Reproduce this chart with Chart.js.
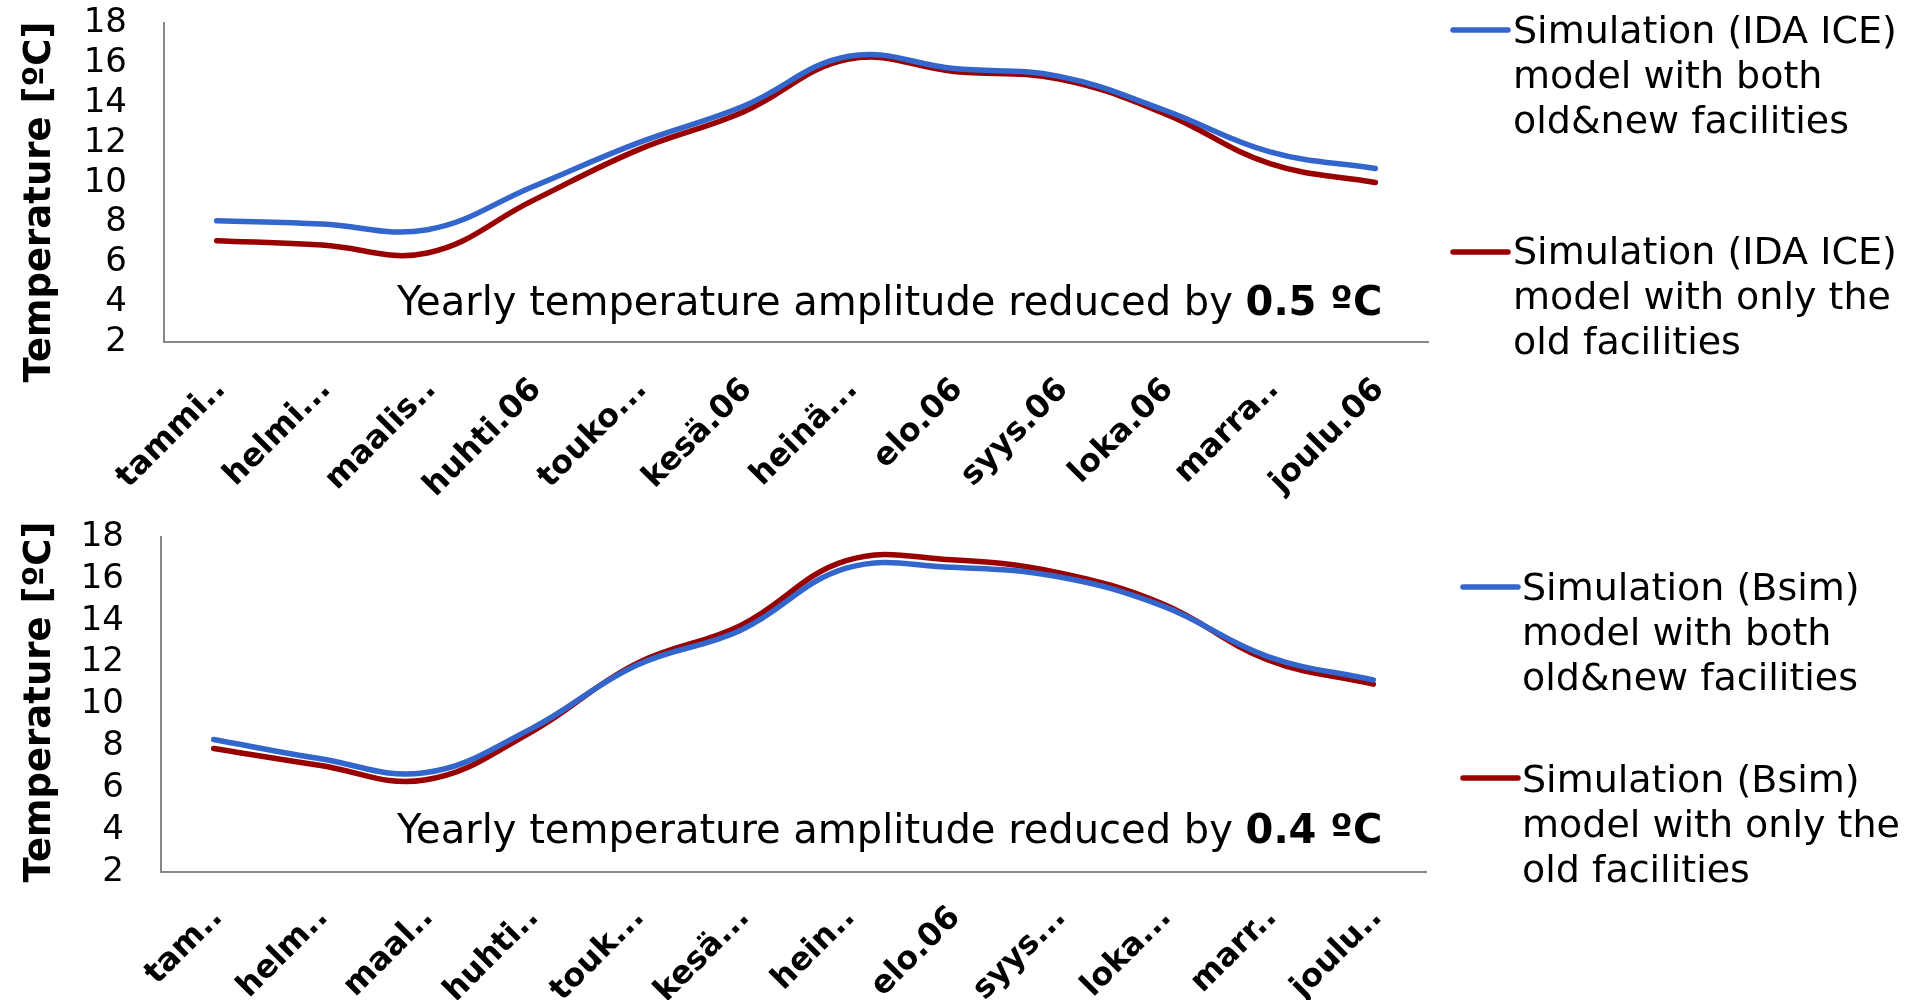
<!DOCTYPE html>
<html><head><meta charset="utf-8">
<script src="https://cdn.jsdelivr.net/npm/chart.js@4.4.1/dist/chart.umd.min.js"></script>
<style>
html,body{margin:0;padding:0;background:#fff;}
#wrap{position:relative;width:1924px;height:1000px;overflow:hidden;background:#fff;}
.box{position:absolute;left:0;width:1924px;height:500px;}
</style></head><body>
<div id="wrap">
  <div class="box" style="top:0"><canvas id="c1" width="1924" height="500"></canvas></div>
  <div class="box" style="top:500px"><canvas id="c2" width="1924" height="500"></canvas></div>
</div>
<script>
// ---- data ----
const monthsTop = ["tammi..","helmi...","maalis..","huhti.06","touko...","kesä.06","heinä...","elo.06","syys.06","loka.06","marra..","joulu.06"];
const monthsBottom = ["tam..","helm..","maal..","huhti..","touk...","kesä...","hein..","elo.06","syys...","loka...","marr..","joulu.."];
const yMin = 2, yMax = 18, yStep = 2;
const idaBoth = [8.09, 7.92, 7.64, 9.80, 12.0, 13.84, 16.35, 15.73, 15.34, 13.64, 11.55, 10.71];
const idaOld  = [7.09, 6.87, 6.47, 9.10, 11.65, 13.55, 16.21, 15.59, 15.21, 13.47, 10.96, 10.01];
const bsimBoth = [8.33, 7.42, 6.74, 8.81, 11.85, 13.55, 16.51, 16.55, 16.11, 14.71, 12.29, 11.17];
const bsimOld  = [7.90, 7.10, 6.39, 8.65, 11.93, 13.78, 16.87, 16.91, 16.31, 14.81, 12.13, 10.97];
const legendTop = [
  ["Simulation (IDA ICE)", "model with both", "old&new facilities"],
  ["Simulation (IDA ICE)", "model with only the", "old facilities"]
];
const legendBottom = [
  ["Simulation (Bsim)", "model with both", "old&new facilities"],
  ["Simulation (Bsim)", "model with only the", "old facilities"]
];
const yTitle = "Temperature [ºC]";
const noteText = "Yearly temperature amplitude reduced by ";
const noteTopBold = "0.5 ºC";
const noteBottomBold = "0.4 ºC";

// ---- styles ----
const FONT = '"DejaVu Sans", Verdana, sans-serif';
const BLUE = '#3366CC';
const RED = '#990000';
const AXIS = '#878787';
Chart.defaults.font.family = FONT;
Chart.defaults.color = '#000';

function overlay(o) {
  return {
    id: 'overlay',
    afterDraw(chart) {
      const ctx = chart.ctx;
      ctx.save();
      ctx.fillStyle = '#000';
      // y-axis title
      ctx.save();
      ctx.translate(o.titleX, o.titleY);
      ctx.rotate(-Math.PI / 2);
      ctx.font = 'bold 37px ' + FONT;
      ctx.textAlign = 'center';
      ctx.textBaseline = 'alphabetic';
      ctx.fillText(yTitle, 0, 0);
      ctx.restore();
      // annotation
      ctx.textAlign = 'left';
      ctx.textBaseline = 'alphabetic';
      ctx.font = '40px ' + FONT;
      ctx.fillText(noteText, o.noteX, o.noteY);
      const w = ctx.measureText(noteText).width;
      ctx.font = 'bold 40px ' + FONT;
      ctx.fillText(o.bold, o.noteX + w, o.noteY);
      // legend
      ctx.font = '38px ' + FONT;
      o.legend.forEach((lines, i) => {
        const it = o.items[i];
        ctx.beginPath();
        ctx.strokeStyle = chart.data.datasets[i].borderColor;
        ctx.lineWidth = 5.5;
        ctx.lineCap = 'round';
        ctx.moveTo(o.lx0, it.ly);
        ctx.lineTo(o.lx1, it.ly);
        ctx.stroke();
        lines.forEach((t, k) => ctx.fillText(t, o.tx, it.base + k * 45));
      });
      ctx.restore();
    }
  };
}

function makeChart(id, labels, a, b, o) {
  return new Chart(document.getElementById(id), {
    type: 'line',
    data: {
      labels: labels,
      datasets: [
        { data: a, borderColor: BLUE, borderWidth: 5.5, pointRadius: 0, tension: 0.4, borderCapStyle: 'round', fill: false },
        { data: b, borderColor: RED, borderWidth: 5.5, pointRadius: 0, tension: 0.4, borderCapStyle: 'round', fill: false }
      ]
    },
    options: {
      responsive: false,
      animation: false,
      events: [],
      layout: { padding: { left: 0, top: o.padTop, right: o.padRight, bottom: 0 } },
      plugins: { legend: { display: false }, tooltip: { enabled: false }, title: { display: false } },
      scales: {
        x: {
          type: 'category',
          offset: true,
          grid: { display: false, drawTicks: false },
          border: { display: true, color: AXIS, width: 2 },
          ticks: { autoSkip: false, maxRotation: 45, minRotation: 45, padding: o.xPad, labelOffset: 4, font: { size: 32, weight: 'bold' }, color: '#000' },
          afterFit(s) { s.height = o.xHeight; }
        },
        y: {
          min: yMin, max: yMax,
          grid: { display: false, drawTicks: true, tickLength: 34 },
          border: { display: true, color: AXIS, width: 2 },
          ticks: { stepSize: yStep, autoSkip: false, padding: 3, font: { size: 34 }, color: '#000' },
          afterFit(s) { s.width = o.yWidth; }
        }
      }
    },
    plugins: [overlay(o)]
  });
}

makeChart('c1', monthsTop, idaBoth, idaOld, {
  padTop: 23, padRight: 496, xHeight: 158, yWidth: 164, xPad: 29,
  titleX: 50, titleY: 202, noteX: 397, noteY: 315, bold: noteTopBold,
  legend: legendTop, lx0: 1453, lx1: 1508, tx: 1513,
  items: [{ ly: 30, base: 43 }, { ly: 252, base: 264 }]
});
makeChart('c2', monthsBottom, bsimBoth, bsimOld, {
  padTop: 37, padRight: 498, xHeight: 128, yWidth: 161, xPad: 27,
  titleX: 50, titleY: 202, noteX: 397, noteY: 343, bold: noteBottomBold,
  legend: legendBottom, lx0: 1463, lx1: 1518, tx: 1522,
  items: [{ ly: 87, base: 100 }, { ly: 278, base: 292 }]
});
</script>
</body></html>
